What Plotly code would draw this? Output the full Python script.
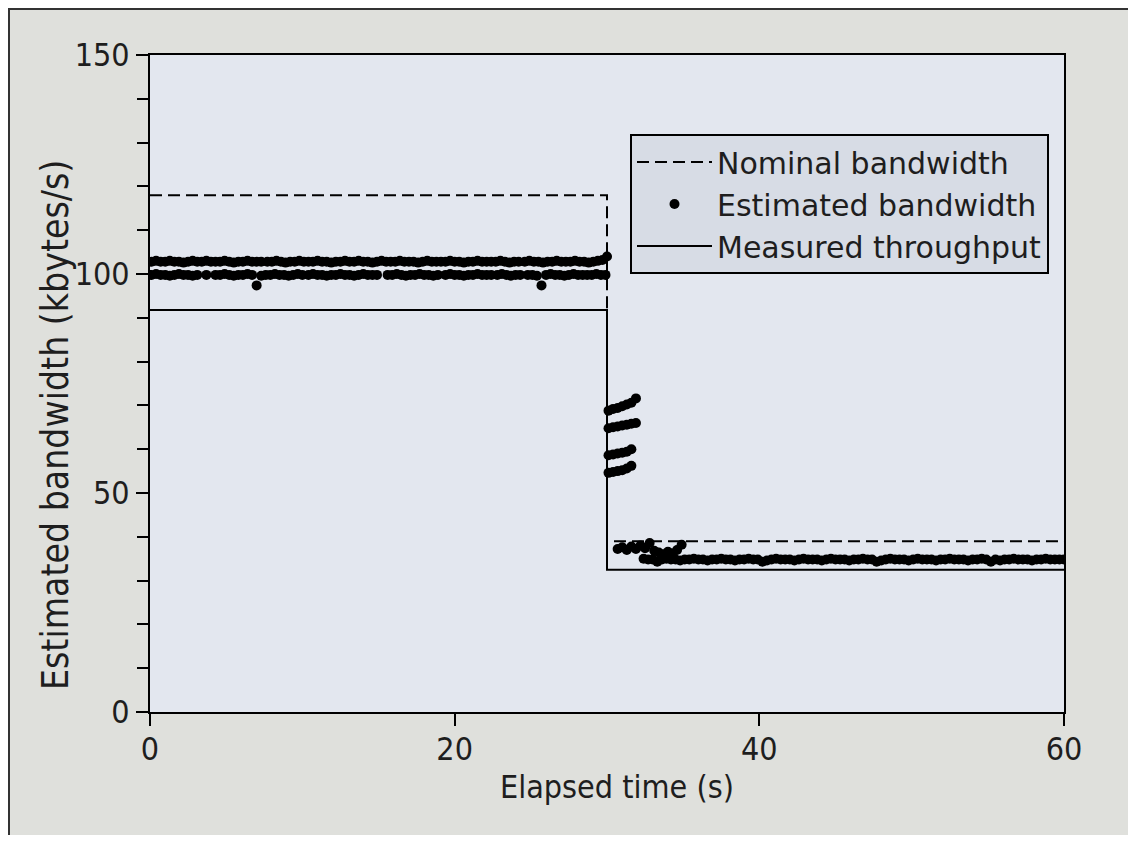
import plotly.graph_objects as go

# ---------------- data ----------------
nominal_t = [0, 30, 30, 60]
nominal_v = [118, 118, 39, 39]

measured_t = [0, 30, 30, 60]
measured_v = [91.8, 91.8, 32.5, 32.5]

# estimated bandwidth, upper row (0-30 s)
upper_t = [0.1, 0.4, 0.7, 1.0, 1.3, 1.6, 1.9, 2.2, 2.5, 2.8, 3.1, 3.4, 3.7, 4.0, 4.3, 4.6, 4.9, 5.2, 5.5, 5.8, 6.1, 6.4, 6.7, 7.0, 7.3,
           7.7, 8.0, 8.3, 8.6, 8.9, 9.2, 9.5, 9.8, 10.1, 10.4, 10.7, 11.0, 11.3, 11.6, 11.9, 12.2, 12.5, 12.8,
           13.1, 13.4, 13.7, 14.0, 14.3, 14.6, 14.9, 15.2, 15.5, 15.8, 16.1, 16.4, 16.7, 17.0, 17.3, 17.6, 17.9, 18.2, 18.5, 18.8,
           19.1, 19.4, 19.7, 20.0, 20.3, 20.6, 20.9, 21.2, 21.5, 21.8, 22.1, 22.4, 22.7, 23.0, 23.3, 23.6, 23.9, 24.2,
           24.6, 24.9, 25.2, 25.5, 25.8, 26.1, 26.4, 26.7, 27.0, 27.3, 27.6, 27.9, 28.2, 28.5, 28.8, 29.1, 29.4, 29.7, 30.0]
upper_v = [102.8, 103.0, 102.8, 102.8, 103.0, 102.8, 102.8, 102.6, 102.8, 103.0, 102.8, 102.8, 103.0, 102.8, 102.8, 102.8, 103.0, 102.8, 102.6, 102.8, 102.8, 103.0, 102.8, 102.8, 102.8,
           102.8, 102.8, 103.0, 102.8, 102.6, 102.8, 102.8, 103.0, 102.8, 102.8, 102.8, 103.0, 102.8, 102.8, 102.6, 102.8, 102.8, 103.0,
           102.8, 102.8, 103.0, 102.8, 102.8, 102.6, 102.8, 103.0, 102.8, 102.8, 102.8, 103.0, 102.8, 102.8, 102.8, 102.6, 102.8, 103.0, 102.8, 102.8,
           102.8, 102.8, 103.0, 102.8, 102.8, 102.6, 102.8, 102.8, 103.0, 102.8, 102.8, 102.8, 102.8, 103.0, 102.8, 102.6, 102.8, 102.8,
           102.8, 103.0, 102.8, 102.8, 102.6, 102.8, 102.8, 103.0, 102.8, 102.8, 102.8, 103.0, 102.8, 102.8, 102.6, 102.8, 103.0, 103.2, 104.0]

# estimated bandwidth, lower row (0-30 s)
lower_t = [0.1, 0.4, 0.7, 1.0, 1.3, 1.6, 1.9, 2.2, 2.5, 2.8, 3.1,
           3.7,
           4.3, 4.6, 4.9, 5.2, 5.5, 5.8, 6.1, 6.4, 6.7, 7.0, 7.3, 7.6, 7.9, 8.2, 8.5, 8.8, 9.1, 9.4, 9.7, 10.0,
           10.4, 10.7, 11.0, 11.3, 11.6, 11.9, 12.2, 12.5, 12.8, 13.1, 13.4, 13.7, 14.0, 14.3, 14.6, 14.9,
           15.6, 15.9, 16.2, 16.5, 16.8, 17.1, 17.4, 17.7, 18.0, 18.3, 18.6, 18.9,
           19.4, 19.7, 20.0, 20.3, 20.6, 20.9, 21.2, 21.5, 21.8, 22.1, 22.4,
           22.8, 23.1, 23.4, 23.7, 24.0, 24.3,
           24.8, 25.1, 25.4, 25.7, 26.0, 26.3, 26.6, 26.9, 27.2, 27.5, 27.8, 28.1, 28.4, 28.7,
           29.0, 29.3, 29.6, 29.9]
lower_v = [99.8, 100.0, 99.8, 99.8, 99.6, 99.8, 100.0, 99.8, 99.8, 99.6, 99.8,
           99.8,
           99.8, 99.8, 100.0, 99.8, 99.6, 99.8, 99.8, 100.0, 99.8, 97.4, 99.6, 99.8, 99.8, 100.0, 99.8, 99.8, 99.6, 99.8, 100.0, 99.8,
           99.8, 100.0, 99.8, 99.8, 99.6, 99.8, 99.8, 100.0, 99.8, 99.8, 99.6, 99.8, 100.0, 99.8, 99.8, 99.8,
           99.8, 99.8, 100.0, 99.8, 99.6, 99.8, 99.8, 100.0, 99.8, 99.8, 99.6, 99.8,
           99.8, 100.0, 99.8, 99.8, 99.6, 99.8, 99.8, 100.0, 99.8, 99.8, 99.8,
           99.8, 100.0, 99.8, 99.6, 99.8, 99.8,
           99.8, 99.8, 99.6, 97.4, 99.8, 100.0, 99.8, 99.8, 99.6, 99.8, 100.0, 99.8, 99.8, 99.8,
           99.8, 100.0, 99.8, 99.8]

# transition estimates just after the bandwidth drop
trans_t = [30.1, 30.4, 30.7, 31.0, 31.3, 31.6, 31.9,
           30.1, 30.4, 30.7, 31.0, 31.3, 31.6, 31.9,
           30.1, 30.4, 30.7, 31.0, 31.3, 31.6,
           30.1, 30.4, 30.7, 31.0, 31.3, 31.6]
trans_v = [68.8, 69.2, 69.4, 69.8, 70.2, 70.6, 71.6,
           64.8, 65.0, 65.2, 65.4, 65.6, 65.8, 66.0,
           58.6, 58.8, 59.0, 59.2, 59.4, 60.0,
           54.6, 54.8, 55.0, 55.2, 55.6, 56.2]

cluster_t = [30.7, 31.0, 31.3, 31.6, 31.9, 32.2, 32.5, 32.8, 33.1, 33.4, 33.7, 34.0, 34.3, 34.6, 34.9]
cluster_v = [37.2, 37.6, 37.0, 37.8, 37.2, 38.0, 37.4, 38.6, 36.8, 36.4, 36.0, 36.6, 36.2, 37.0, 38.2]

# settled estimates (after ~32 s)
settled_t = [32.4, 32.7, 33.0, 33.3, 33.6, 33.9, 34.2, 34.5, 34.8, 35.1,
             35.4, 35.7, 36.0, 36.3, 36.6, 36.9, 37.2, 37.5, 37.8, 38.1,
             38.4, 38.7, 39.0, 39.3, 39.6, 39.9, 40.2, 40.5, 40.8, 41.1,
             41.4, 41.7, 42.0, 42.3, 42.6, 42.9, 43.2, 43.5, 43.8, 44.1,
             44.4, 44.7, 45.0, 45.3, 45.6, 45.9, 46.2, 46.5, 46.8, 47.1,
             47.4, 47.7, 48.0, 48.3, 48.6, 48.9, 49.2, 49.5, 49.8, 50.1,
             50.4, 50.7, 51.0, 51.3, 51.6, 51.9, 52.2, 52.5, 52.8, 53.1,
             53.4, 53.7, 54.0, 54.3, 54.6, 54.9, 55.2, 55.5, 55.8, 56.1,
             56.4, 56.7, 57.0, 57.3, 57.6, 57.9, 58.2, 58.5, 58.8, 59.1,
             59.4, 59.7, 60.0]
settled_v = [35.0, 34.8, 34.8, 34.3, 34.8, 35.0, 34.8, 34.8, 34.6, 34.8,
             34.8, 35.0, 34.8, 34.8, 34.6, 34.8, 34.8, 35.0, 34.8, 34.8,
             34.6, 34.8, 34.8, 35.0, 34.8, 34.8, 34.3, 34.6, 34.8, 35.0,
             34.8, 34.8, 34.8, 34.6, 34.8, 35.0, 34.8, 34.8, 34.8, 34.6,
             34.8, 35.0, 34.8, 34.8, 34.8, 34.6, 34.8, 34.8, 35.0, 34.8,
             34.8, 34.3, 34.6, 34.8, 35.0, 34.8, 34.8, 34.8, 34.6, 34.8,
             35.0, 34.8, 34.8, 34.8, 34.6, 34.8, 34.8, 35.0, 34.8, 34.8,
             34.8, 34.6, 34.8, 34.8, 35.0, 34.8, 34.3, 34.8, 34.6, 34.8,
             34.8, 35.0, 34.8, 34.8, 34.8, 34.6, 34.8, 34.8, 35.0, 34.8,
             34.8, 34.8, 34.8]

x_ticks = [0, 20, 40, 60]

est_t = upper_t + lower_t + trans_t + cluster_t + settled_t
est_v = upper_v + lower_v + trans_v + cluster_v + settled_v

# ---------------- figure ----------------
OFF = 8                      # page body margin
W, H = 1128, 827
L, T = 142, 47
PW, PH = 914, 657
R, B = W - L - PW, H - T - PH

def px_x(p):                 # screen pixel -> paper x
    return (p - OFF - L) / PW

def px_y(p):                 # screen pixel -> paper y
    return (T + PH - (p - OFF)) / PH

NARROW = "Liberation Sans Narrow, Arial Narrow, DejaVu Sans Condensed, sans-serif"
LEG = "DejaVu Sans, sans-serif"
TXT = "#1e1e1e"

fig = go.Figure()
fig.add_trace(go.Scatter(x=nominal_t, y=nominal_v, mode="lines", name="Nominal bandwidth",
                         line=dict(color="black", width=2, dash="12px,6px")))
fig.add_trace(go.Scatter(x=est_t, y=est_v, mode="markers", name="Estimated bandwidth",
                         marker=dict(symbol="circle", size=10, color="black", line=dict(width=0))))
fig.add_trace(go.Scatter(x=measured_t, y=measured_v, mode="lines", name="Measured throughput",
                         line=dict(color="black", width=2)))

fig.update_layout(
    width=W, height=H, autosize=False,
    margin=dict(l=L, r=R, t=T, b=B, pad=0),
    paper_bgcolor="#dfe0dc",
    plot_bgcolor="#e3e7ef",
    showlegend=True,
    legend=dict(x=px_x(630), y=px_y(134), xanchor="left", yanchor="top",
                bgcolor="#d7dce5", bordercolor="black", borderwidth=2,
                font=dict(family=LEG, size=30, color=TXT), itemwidth=75,
                tracegroupgap=0),
    xaxis=dict(range=[0, 60], tickvals=x_ticks, ticktext=[str(v) for v in x_ticks],
               showline=True, mirror=True, linecolor="black", linewidth=2,
               ticks="outside", ticklen=12, tickwidth=2, tickcolor="black",
               showgrid=False, zeroline=False, ticklabelstandoff=-4,
               tickfont=dict(family=NARROW, size=32, color=TXT)),
    yaxis=dict(range=[0, 150], tickmode="linear", tick0=0, dtick=50,
               showline=True, mirror=True, linecolor="black", linewidth=2,
               ticks="outside", ticklen=12, tickwidth=2, tickcolor="black",
               minor=dict(dtick=10, ticks="outside", ticklen=11, tickwidth=2, tickcolor="black", showgrid=False),
               showgrid=False, zeroline=False,
               tickfont=dict(family=NARROW, size=32, color=TXT)),
    annotations=[
        dict(text="Elapsed time (s)", xref="paper", yref="paper", x=px_x(617), y=px_y(787),
             xanchor="center", yanchor="middle", showarrow=False,
             font=dict(family=NARROW, size=32, color=TXT)),
        dict(text="Estimated bandwidth (kbytes/s)", xref="paper", yref="paper", x=px_x(55), y=px_y(425),
             xanchor="center", yanchor="middle", showarrow=False, textangle=-90,
             font=dict(family=NARROW, size=37, color=TXT)),
    ],
    shapes=[
        # outer frame lines (left and top edges of the figure)
        dict(type="line", xref="paper", yref="paper", x0=px_x(9), x1=px_x(9), y0=px_y(H + OFF + 5), y1=px_y(8),
             line=dict(color="#333333", width=2)),
        dict(type="line", xref="paper", yref="paper", x0=px_x(8), x1=px_x(W + OFF + 5), y0=px_y(9), y1=px_y(9),
             line=dict(color="#333333", width=2)),
    ],
)

fig.write_html("out.html")
